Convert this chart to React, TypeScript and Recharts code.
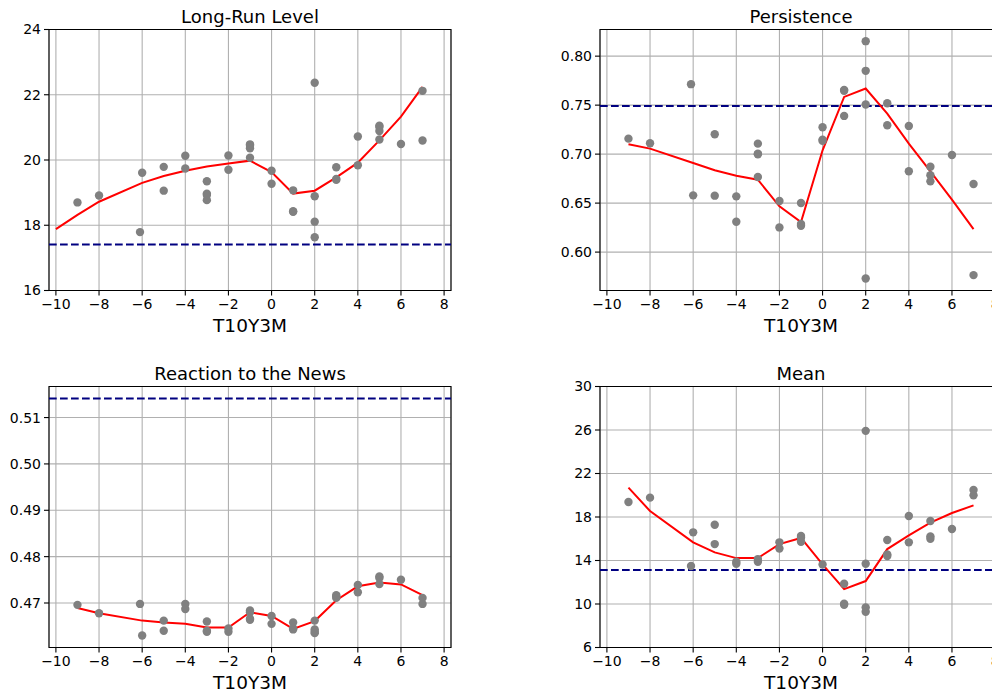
import React from "react";
import { ComposedChart, Scatter, Line, XAxis, YAxis, CartesianGrid, ReferenceLine, ReferenceArea } from "recharts";

// shared x axis (T10Y3M)
const xTicks = [-10, -8, -6, -4, -2, 0, 2, 4, 6, 8];
const xDomain: [number, number] = [-10.32, 8.32];

// Long-Run Level
const levelPts: [number, number][] = [
  [-9, 18.7], [-8, 18.91], [-6, 19.61], [-6.1, 17.79], [-5, 19.79], [-5, 19.06],
  [-4, 20.13], [-4, 19.74], [-3, 19.35], [-3, 18.97], [-3, 18.93], [-3, 18.77],
  [-2, 20.14], [-2, 19.7], [-1, 20.48], [-1, 20.44], [-1, 20.36], [-1, 20.07],
  [0, 19.67], [0, 19.27], [1, 19.07], [1, 18.43], [1, 18.41],
  [2, 22.37], [2, 18.89], [2, 18.11], [2, 17.63], [3, 19.78], [3, 19.42], [3, 19.39],
  [4, 20.72], [4, 19.84], [5, 21.05], [5, 21.01], [5, 20.89], [5, 20.63],
  [6, 20.49], [7, 22.12], [7, 20.6],
];
const levelLineX = [-10, -9, -8, -6, -5, -4, -3, -2, -1, 0, 1, 2, 3, 4, 5, 6, 7];
const levelLine = [17.88, 18.32, 18.72, 19.3, 19.51, 19.67, 19.8, 19.89, 19.98, 19.63, 18.97, 19.06, 19.47, 19.92, 20.6, 21.33, 22.24];
const levelRef = 17.41;

// Persistence
const persistPts: [number, number][] = [
  [-9, 0.7158], [-8, 0.7111], [-6.1, 0.7714], [-6, 0.6579], [-5, 0.7203], [-5, 0.6576],
  [-4, 0.6569], [-4, 0.631], [-3, 0.7107], [-3, 0.7005], [-3, 0.6998], [-3, 0.6767],
  [-2, 0.6521], [-2, 0.6252], [-1, 0.6501], [-1, 0.6286], [-1, 0.6269],
  [0, 0.7274], [0, 0.7148], [0, 0.7135], [1, 0.7656], [1, 0.7646], [1, 0.739],
  [2, 0.8153], [2, 0.785], [2, 0.7506], [2, 0.5731], [3, 0.752], [3, 0.7295],
  [4, 0.7288], [4, 0.6825], [5, 0.6872], [5, 0.6784], [5, 0.6722],
  [6, 0.6991], [7, 0.6695], [7, 0.5765],
];
const smoothX = [-9, -8, -6, -5, -4, -3, -2, -1, 0, 1, 2, 3, 4, 5, 6, 7];
const persistLine = [0.71, 0.7056, 0.691, 0.6835, 0.678, 0.6739, 0.6467, 0.6307, 0.7039, 0.7584, 0.767, 0.7414, 0.7107, 0.6825, 0.6535, 0.6235];
const persistRef = 0.7492;

// Reaction to the News
const newsPts: [number, number][] = [
  [-9, 0.4696], [-8, 0.4678], [-6.1, 0.4698], [-6, 0.463], [-5, 0.4662], [-5, 0.464],
  [-4, 0.4698], [-4, 0.4687], [-3, 0.466], [-3, 0.464], [-3, 0.4638],
  [-2, 0.4645], [-2, 0.4638], [-1, 0.4684], [-1, 0.468], [-1, 0.4666], [-1, 0.4664],
  [0, 0.4672], [0, 0.4655], [1, 0.4658], [1, 0.4645], [1, 0.4643],
  [2, 0.4662], [2, 0.4643], [2, 0.4638], [2, 0.4635], [3, 0.4717], [3, 0.4714], [3, 0.4711],
  [4, 0.4739], [4, 0.4723], [5, 0.4757], [5, 0.4754], [5, 0.4741],
  [6, 0.475], [7, 0.4711], [7, 0.4698],
];
const newsLine = [0.4689, 0.4678, 0.4662, 0.4658, 0.4655, 0.4647, 0.4647, 0.468, 0.4672, 0.4644, 0.4661, 0.4706, 0.4736, 0.4744, 0.474, 0.4717];
const newsRef = 0.5141;

// Mean
const meanPts: [number, number][] = [
  [-9, 19.38], [-8, 19.78], [-6, 16.59], [-6.1, 13.49], [-5, 17.29], [-5, 15.51],
  [-4, 13.89], [-4, 13.7], [-3, 14.13], [-3, 13.89], [-2, 15.67], [-2, 15.11],
  [-1, 16.25], [-1, 16.1], [-1, 15.73], [0, 13.64], [1, 11.86], [1, 10.02], [1, 9.93],
  [2, 25.92], [2, 13.7], [2, 9.68], [2, 9.28], [3, 15.88], [3, 14.56], [3, 14.41],
  [4, 18.09], [4, 15.67], [5, 17.63], [5, 16.22], [5, 16.0], [6, 16.89], [7, 20.48], [7, 19.99],
];
const meanLine = [20.7, 18.55, 15.67, 14.75, 14.22, 14.22, 15.51, 16.07, 13.64, 11.37, 12.11, 15.05, 16.31, 17.48, 18.37, 19.07];
const meanRef = 13.12;

const font = "'DejaVu Sans', sans-serif";
const minus = (v: number) => String(v).replace("-", "\u2212");

const toPts = (a: [number, number][]) => a.map(([x, y]) => ({ x, y }));
const toLine = (xs: number[], ys: number[]) => xs.map((x, i) => ({ x, y: ys[i] }));

const W = 500;
const H = 345;
const margin = { top: 29.5, right: 49, bottom: 24.5, left: 0 };

function Panel(props: any) {
  const { left, top, title, pts, line, refY, yDomain, yTicks, yFmt } = props;
  return (
    <div style={{ position: "absolute", left, top, width: W, height: H }}>
      <ComposedChart width={W} height={H} margin={margin}>
        <CartesianGrid stroke="#b0b0b0" strokeWidth={1.1} />
        <XAxis
          dataKey="x"
          type="number"
          domain={xDomain}
          ticks={xTicks}
          interval={0}
          allowDataOverflow
          height={30}
          axisLine={false}
          tickSize={5}
          tickMargin={4}
          tickLine={{ stroke: "#000", strokeWidth: 1.1 }}
          tick={{ fill: "#000", fontSize: 14, fontFamily: font }}
          tickFormatter={minus}
        />
        <YAxis
          dataKey="y"
          type="number"
          domain={yDomain}
          ticks={yTicks}
          interval={0}
          allowDataOverflow
          width={49}
          axisLine={false}
          tickSize={5}
          tickMargin={3}
          tickLine={{ stroke: "#000", strokeWidth: 1.1 }}
          tick={{ fill: "#000", fontSize: 14, fontFamily: font }}
          tickFormatter={yFmt}
        />
        <ReferenceLine y={refY} stroke="#000080" strokeWidth={2} strokeDasharray="7.7 3.3" />
        <Scatter
          data={pts}
          isAnimationActive={false}
          shape={(p: any) => <circle cx={p.cx} cy={p.cy} r={4.2} fill="#808080" />}
        />
        <Line data={line} dataKey="y" type="linear" stroke="#ff0000" strokeWidth={2} dot={false} isAnimationActive={false} />
        <ReferenceArea
          x1={xDomain[0]}
          x2={xDomain[1]}
          y1={yDomain[0]}
          y2={yDomain[1]}
          fill="none"
          stroke="#000"
          strokeWidth={1.1}
          ifOverflow="visible"
        />
      </ComposedChart>
      <svg width={W} height={H} style={{ position: "absolute", left: 0, top: 0, pointerEvents: "none" }}>
        <text x={250} y={22.5} textAnchor="middle" fontSize={18} fontFamily={font} fill="#000">
          {title}
        </text>
        <text x={250} y={331.5} textAnchor="middle" fontSize={18.5} fontFamily={font} fill="#000">
          T10Y3M
        </text>
      </svg>
    </div>
  );
}

export default function App() {
  return (
    <div style={{ position: "absolute", left: 0, top: 0, width: 992, height: 694, overflow: "hidden", background: "#fff" }}>
      <Panel
        left={0}
        top={0}
        title="Long-Run Level"
        pts={toPts(levelPts)}
        line={toLine(levelLineX, levelLine)}
        refY={levelRef}
        yDomain={[16, 24]}
        yTicks={[16, 18, 20, 22, 24]}
        yFmt={minus}
      />
      <Panel
        left={551}
        top={0}
        title="Persistence"
        pts={toPts(persistPts)}
        line={toLine(smoothX, persistLine)}
        refY={persistRef}
        yDomain={[0.5608, 0.8272]}
        yTicks={[0.6, 0.65, 0.7, 0.75, 0.8]}
        yFmt={(v: number) => v.toFixed(2)}
      />
      <Panel
        left={0}
        top={357}
        title="Reaction to the News"
        pts={toPts(newsPts)}
        line={toLine(smoothX, newsLine)}
        refY={newsRef}
        yDomain={[0.4604, 0.5167]}
        yTicks={[0.47, 0.48, 0.49, 0.5, 0.51]}
        yFmt={(v: number) => v.toFixed(2)}
      />
      <Panel
        left={551}
        top={357}
        title="Mean"
        pts={toPts(meanPts)}
        line={toLine(smoothX, meanLine)}
        refY={meanRef}
        yDomain={[6, 30]}
        yTicks={[6, 10, 14, 18, 22, 26, 30]}
        yFmt={minus}
      />
    </div>
  );
}
